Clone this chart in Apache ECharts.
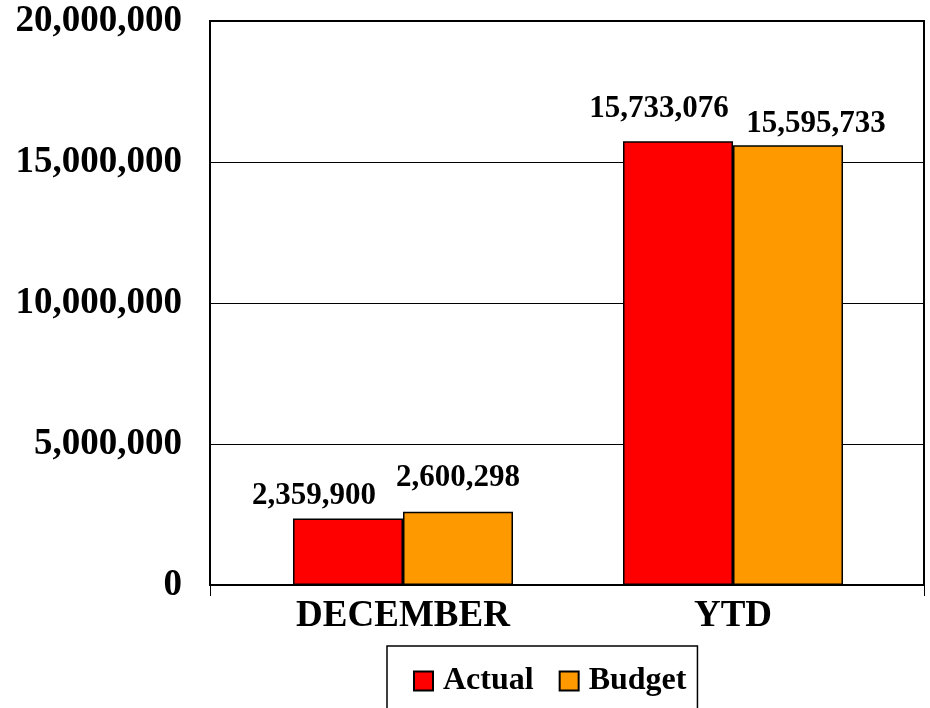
<!DOCTYPE html>
<html>
<head>
<meta charset="utf-8">
<script src="https://cdn.jsdelivr.net/npm/echarts@6/dist/echarts.min.js"></script>
<style>html,body{margin:0;padding:0;background:#fff}#c{width:930px;height:708px}</style>
</head>
<body>
<div id="c"></div>
<script>
var categories = ['DECEMBER', 'YTD'];
var actual = [2359900, 15733076];
var budget = [2600298, 15595733];
var yTicks = [0, 5000000, 10000000, 15000000, 20000000];

var FONT = '"Liberation Serif", "Times New Roman", serif';
function fmt(v) { return String(v).replace(/\B(?=(\d{3})+(?!\d))/g, ','); }

var actualOffsets = [[-34, -7], [-19, -17]];
var budgetOffsets = [[0, -18], [28, -6]];

function mk(vals, offs) {
  return vals.map(function (v, i) {
    return { value: v, label: { offset: offs[i] } };
  });
}

var chart = echarts.init(document.getElementById('c'), null, { renderer: 'canvas' });
var labelStyle = {
  show: true, position: 'top', distance: 0,
  fontFamily: FONT, fontWeight: 'bold', fontSize: 31, color: '#000',
  formatter: function (p) { return fmt(p.value); }
};
chart.setOption({
  animation: false,
  backgroundColor: '#fff',
  grid: [
    { left: 210, right: 6, top: 21, bottom: 123, show: true, borderColor: '#000', borderWidth: 2, backgroundColor: 'transparent' },
    { left: 238, right: 32, top: 21, bottom: 123 }
  ],
  legend: {
    left: 387, top: 646,
    padding: [19, 11, 17, 26],
    borderColor: '#000', borderWidth: 1.5,
    itemWidth: 19, itemHeight: 19, itemGap: 25,
    icon: 'rect',
    textStyle: { fontFamily: FONT, fontWeight: 'bold', fontSize: 32, color: '#000', padding: [0, 0, 0, 5] },
    data: ['Actual', 'Budget']
  },
  xAxis: [
    { type: 'category', gridIndex: 0, data: [''], boundaryGap: true,
      axisLine: { lineStyle: { color: '#000', width: 2 } },
      axisTick: { show: true, length: 11, lineStyle: { color: '#000', width: 1 } },
      axisLabel: { show: false } },
    { type: 'category', gridIndex: 1, data: categories,
      axisLine: { show: false }, axisTick: { show: false },
      axisLabel: { fontFamily: FONT, fontWeight: 'bold', fontSize: 37, color: '#000', margin: 13 } }
  ],
  yAxis: [
    { type: 'value', gridIndex: 0, min: 0, max: 20000000, interval: 5000000,
      axisLine: { show: true, lineStyle: { color: '#000', width: 2 } },
      axisTick: { show: false },
      splitLine: { show: true, lineStyle: { color: '#000', width: 1 } },
      axisLabel: { fontFamily: FONT, fontWeight: 'bold', fontSize: 37, color: '#000', margin: 28,
        formatter: function (v) { return fmt(v); } } },
    { type: 'value', gridIndex: 1, min: 0, max: 20000000, interval: 5000000, show: false,
      splitLine: { show: false } }
  ],
  series: [
    { name: 'Actual', type: 'bar', xAxisIndex: 1, yAxisIndex: 1, barWidth: 110, barGap: '0%',
      itemStyle: { color: '#ff0000', borderColor: '#000', borderWidth: 1.5 },
      label: labelStyle, data: mk(actual, actualOffsets) },
    { name: 'Budget', type: 'bar', xAxisIndex: 1, yAxisIndex: 1, barWidth: 110, barGap: '0%',
      itemStyle: { color: '#ff9900', borderColor: '#000', borderWidth: 1.5 },
      label: labelStyle, data: mk(budget, budgetOffsets) }
  ]
});
</script>
</body>
</html>
